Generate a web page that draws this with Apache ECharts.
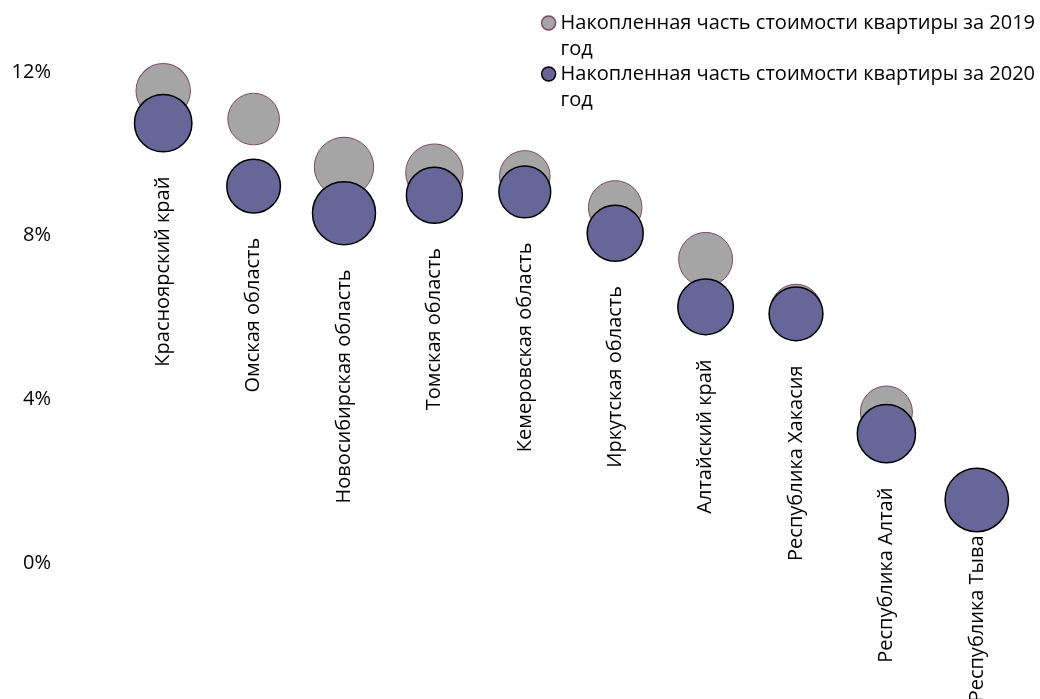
<!DOCTYPE html>
<html>
<head>
<meta charset="utf-8">
<script src="https://cdn.jsdelivr.net/npm/echarts@6/dist/echarts.min.js"></script>
<style>html,body{margin:0;padding:0;background:#fff;}#c{width:1040px;height:699px;}</style>
</head>
<body>
<div id="c"></div>
<script>
var categories = ['Красноярский край','Омская область','Новосибирская область','Томская область','Кемеровская область','Иркутская область','Алтайский край','Республика Хакасия','Республика Алтай','Республика Тыва'];
var share2019 = [11.54, 10.85, 9.68, 9.54, 9.46, 8.69, 7.42, 6.19, 3.69, null];
var share2020 = [10.75, 9.21, 8.55, 8.99, 9.07, 8.06, 6.26, 6.09, 3.16, 1.54];
var bubble2019 = [7.4, 6.66, 8.82, 8.24, 6.4, 7.18, 7.29, 6.5, 6.76, null];
var bubble2020 = [8.24, 7.18, 9.92, 7.84, 6.7, 7.84, 7.73, 7.24, 8.47, 10.05];
var yTicks = [0, 4, 8, 12];
var seriesNames = ['Накопленная часть стоимости квартиры за 2019 год','Накопленная часть стоимости квартиры за 2020 год'];

function build(vals, sizes) {
  return categories.map(function (c, i) {
    return vals[i] == null ? [c, '-', 0] : [c, vals[i], sizes[i]];
  });
}
var FONT = 'Open Sans';
var FS = 20;
var chart = echarts.init(document.getElementById('c'));
var data2020 = build(share2020, bubble2020).map(function (d, i) {
  if (i === categories.length - 1) {
    return { value: d, label: { distance: 3 } };
  }
  return d;
});
chart.setOption({
  animation: false,
  textStyle: { fontFamily: FONT },
  legend: {
    top: -21, right: 0, orient: 'vertical', align: 'left',
    icon: 'circle', itemWidth: 14, itemHeight: 14, itemGap: -27,
    formatter: function (n) { return '\n' + n.replace(' год', '\nгод'); },
    textStyle: { fontFamily: FONT, fontSize: FS, color: '#000', lineHeight: 26 },
    data: [
      { name: seriesNames[0], itemStyle: { color: '#a5a5a5', borderColor: '#7b4a63', borderWidth: 1.5 } },
      { name: seriesNames[1], itemStyle: { color: '#666699', borderColor: '#000', borderWidth: 1.5 } }
    ]
  },
  grid: { left: 118, right: 18, top: 72, bottom: 136 },
  xAxis: {
    type: 'category', data: categories, boundaryGap: true,
    axisLine: { show: false }, axisTick: { show: false }, axisLabel: { show: false }, splitLine: { show: false }
  },
  yAxis: {
    type: 'value', min: yTicks[0], max: yTicks[yTicks.length - 1], interval: 4,
    axisLine: { show: false }, axisTick: { show: false }, splitLine: { show: false },
    axisLabel: { formatter: '{value}%', fontFamily: FONT, fontSize: FS, color: '#000', margin: 67 }
  },
  series: [
    {
      name: seriesNames[0], type: 'scatter', clip: false,
      data: build(share2019, bubble2019),
      symbolSize: function (v) { return 20 * Math.sqrt(v[2]); },
      itemStyle: { color: '#a5a5a5', borderColor: '#7b4a63', borderWidth: 1, opacity: 1 }
    },
    {
      name: seriesNames[1], type: 'scatter', clip: false,
      data: data2020,
      symbolSize: function (v) { return 20 * Math.sqrt(v[2]); },
      itemStyle: { color: '#666699', borderColor: '#000', borderWidth: 1.5, opacity: 1 },
      label: {
        show: true, position: 'bottom', distance: 24, rotate: 90,
        align: 'right', verticalAlign: 'middle',
        fontFamily: FONT, fontSize: FS, color: '#000',
        formatter: function (p) { return categories[p.dataIndex]; }
      },
      labelLayout: { hideOverlap: false }
    }
  ]
});
</script>
</body>
</html>
